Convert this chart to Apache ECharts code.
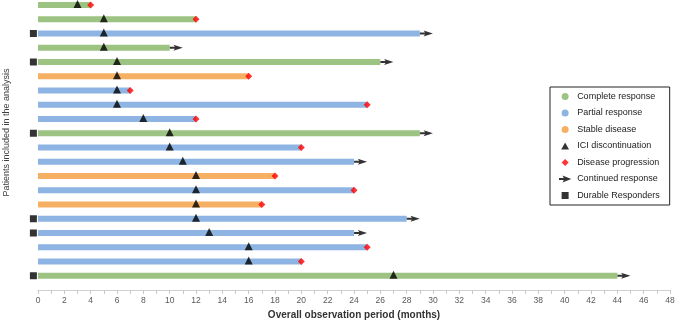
<!DOCTYPE html>
<html>
<head>
<meta charset="utf-8">
<script src="https://cdn.jsdelivr.net/npm/echarts@6/dist/echarts.min.js"></script>
<style>html,body{margin:0;padding:0;background:#fff}#c{width:676px;height:321px}</style>
</head>
<body>
<div id="c"></div>
<script>
// Patients listed top to bottom
const responses = ['CR','CR','PR','CR','CR','SD','PR','PR','PR','CR','PR','PR','SD','PR','SD','PR','PR','PR','PR','CR'];
const endMonths = [4,12,29,10,26,16,7,25,12,29,20,24,18,24,17,28,24,25,20,44];
const iciStopMonths = [3,5,5,5,6,6,6,6,8,10,10,11,12,12,12,12,13,16,16,27];
const progressed = [1,1,0,0,0,1,1,1,1,0,1,0,1,1,1,0,0,1,1,0];
const continued = [0,0,1,1,1,0,0,0,0,1,0,1,0,0,0,1,1,0,0,1];
const durable = [0,0,1,0,1,0,0,0,0,1,0,0,0,0,0,1,1,0,0,1];
const xTicks = {min: 0, max: 48, interval: 2};
const durableX = -0.35;

const n = responses.length;
const rowY = i => n - i;
const colors = {CR: '#9DC382', PR: '#8DB4E2', SD: '#F5B064'};
const names = {CR: 'Complete response', PR: 'Partial response', SD: 'Stable disease'};

function barData(code) {
  const d = [];
  responses.forEach((r, i) => { if (r === code) d.push([0, endMonths[i], rowY(i)]); });
  return d;
}
function barSeries(code) {
  return {
    name: names[code], type: 'custom', color: colors[code],
    itemStyle: {color: colors[code]},
    renderItem: (params, api) => {
      const s = api.coord([api.value(0), api.value(2)]);
      const e = api.coord([api.value(1), api.value(2)]);
      return {type: 'rect', shape: {x: s[0], y: s[1] - 3, width: e[0] - s[0], height: 6},
        style: {fill: colors[code]}};
    },
    encode: {x: [0, 1], y: 2},
    data: barData(code), z: 1
  };
}
const triData = iciStopMonths.map((m, i) => [m, rowY(i)]);
const diaData = [], arrowData = [], durData = [];
endMonths.forEach((m, i) => {
  if (progressed[i]) diaData.push([m, rowY(i)]);
  if (continued[i]) arrowData.push([m + 0.5, rowY(i)]);
  if (durable[i]) durData.push([durableX, rowY(i)]);
});
const triPath = 'path://M5,0L10,9L0,9Z';
const diaPath = 'path://M5,0L10,5L5,10L0,5Z';
const sqPath = 'path://M0,0L10,0L10,10L0,10Z';
const arrowPath = 'path://M0,2.8L5.5,2.8L4,0L14,4L4,8L5.5,5.2L0,5.2Z';

const chart = echarts.init(document.getElementById('c'), null, {renderer: 'canvas'});
chart.setOption({
  animation: false,
  grid: {left: 38, right: 6, top: 5, bottom: 31, containLabel: false, outerBoundsMode: 'none'},
  xAxis: {
    type: 'value', min: xTicks.min, max: xTicks.max, interval: xTicks.interval,
    name: 'Overall observation period (months)', nameLocation: 'middle', nameGap: 18,
    nameTextStyle: {fontFamily: 'Liberation Sans', fontWeight: 'bold', fontSize: 10, color: '#333'},
    axisLine: {show: true, lineStyle: {color: '#d0d0d0'}},
    axisTick: {show: true, length: 4, lineStyle: {color: '#c8c8c8'}},
    minorTick: {show: true, splitNumber: 2, length: 4, lineStyle: {color: '#c8c8c8'}},
    axisLabel: {fontFamily: 'Liberation Sans', fontSize: 8.5, color: '#595959', margin: 6},
    splitLine: {show: false}
  },
  yAxis: {
    type: 'value', min: 0, max: n,
    name: 'Patients included in the analysis', nameLocation: 'middle', nameGap: 27, nameRotate: 90,
    nameTextStyle: {fontFamily: 'Liberation Sans', fontSize: 9, color: '#404040', padding: [0, 0, 0, 30]},
    axisLine: {show: false}, axisTick: {show: false}, axisLabel: {show: false}, splitLine: {show: false}
  },
  legend: {
    orient: 'vertical', left: 550, top: 87,
    borderColor: '#222', borderWidth: 1, padding: [5, 10, 5, 9],
    itemWidth: 14, itemHeight: 7, itemGap: 7.5, symbolKeepAspect: true,
    textStyle: {fontFamily: 'Liberation Sans', fontSize: 9, color: '#222'},
    data: [
      {name: 'Complete response', icon: 'circle', itemStyle: {color: colors.CR}},
      {name: 'Partial response', icon: 'circle', itemStyle: {color: colors.PR}},
      {name: 'Stable disease', icon: 'circle', itemStyle: {color: colors.SD}},
      {name: 'ICI discontinuation', icon: triPath},
      {name: 'Disease progression', icon: diaPath},
      {name: 'Continued response', icon: arrowPath},
      {name: 'Durable Responders', icon: sqPath}
    ]
  },
  series: [
    barSeries('CR'), barSeries('PR'), barSeries('SD'),
    {name: 'ICI discontinuation', type: 'scatter', symbol: triPath, symbolSize: [8, 8],
      symbolOffset: [0, -1], itemStyle: {color: '#000'}, data: triData, z: 5},
    {name: 'Disease progression', type: 'scatter', symbol: diaPath, symbolSize: [7, 7],
      itemStyle: {color: '#FF0000'}, data: diaData, z: 4},
    {name: 'Continued response', type: 'scatter', symbol: arrowPath, symbolSize: [13, 6],
      itemStyle: {color: '#000'}, data: arrowData, z: 4},
    {name: 'Durable Responders', type: 'scatter', symbol: sqPath, symbolSize: [7, 7], clip: false,
      itemStyle: {color: '#000'}, data: durData, z: 4}
  ]
});
</script>
</body>
</html>
